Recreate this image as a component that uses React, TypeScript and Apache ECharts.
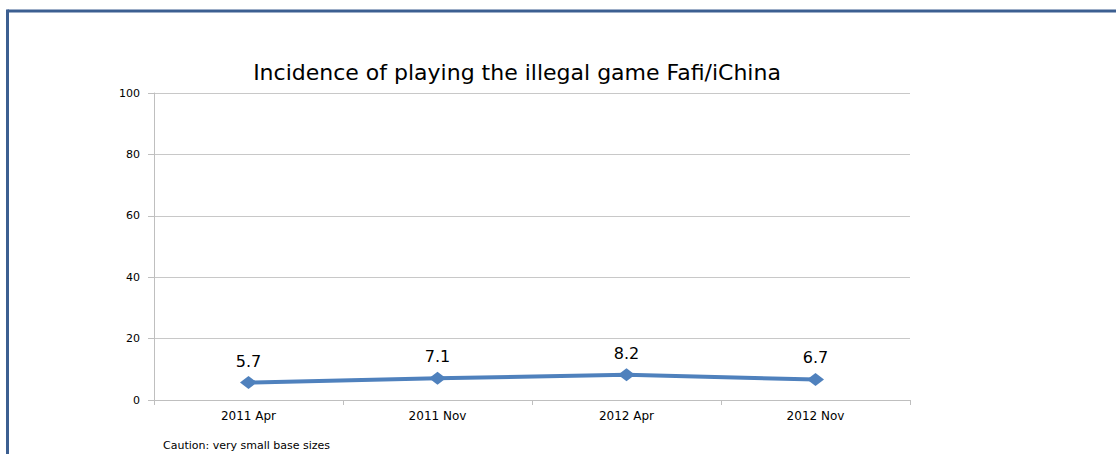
import React, { useEffect, useRef } from "react";
import * as echarts from "echarts";

const categories = ["2011 Apr", "2011 Nov", "2012 Apr", "2012 Nov"];
const values = [5.7, 7.1, 8.2, 6.7];
const titleText = "Incidence of playing the illegal game Fafi/iChina";
const noteText = "Caution: very small base sizes";

export default function App() {
  const ref = useRef<HTMLDivElement>(null);
  useEffect(() => {
    const chart = echarts.init(ref.current!, null, { renderer: "svg" });
    const font = "'DejaVu Sans', 'Open Sans', sans-serif";
    chart.setOption({
      animation: false,
      backgroundColor: "#ffffff",
      title: {
        text: titleText,
        left: 512,
        top: 56,
        textAlign: "center",
        textStyle: { fontFamily: font, fontSize: 22, fontWeight: "normal", color: "#000000" },
      },
      grid: { left: 154, right: 206, top: 93, bottom: 54 },
      xAxis: {
        type: "category",
        data: categories,
        boundaryGap: true,
        axisLine: { lineStyle: { color: "#BFBFBF", width: 1 } },
        axisTick: { show: true, alignWithLabel: false, length: 5, lineStyle: { color: "#BFBFBF" } },
        axisLabel: { fontFamily: font, fontSize: 12, color: "#000000", margin: 10 },
      },
      yAxis: {
        type: "value",
        min: 0,
        max: 100,
        interval: 20,
        axisLine: { show: true, lineStyle: { color: "#BFBFBF", width: 1 } },
        axisTick: { show: true, length: 6, lineStyle: { color: "#BFBFBF" } },
        splitLine: { lineStyle: { color: "#C8C8C8", width: 1 } },
        axisLabel: { fontFamily: font, fontSize: 11, color: "#000000", margin: 14 },
      },
      series: [
        {
          type: "line",
          data: values,
          symbol: "diamond",
          symbolSize: [17, 13],
          lineStyle: { color: "#4F81BD", width: 4 },
          itemStyle: { color: "#4F81BD" },
          label: {
            show: true,
            position: "top",
            distance: 7,
            fontFamily: font,
            fontSize: 16,
            color: "#000000",
          },
        },
      ],
      graphic: [
        {
          type: "line",
          shape: { x1: 7.5, y1: 11, x2: 1116, y2: 11 },
          style: { stroke: "#3C5F91", lineWidth: 3 },
        },
        {
          type: "line",
          shape: { x1: 7.5, y1: 9.5, x2: 7.5, y2: 454 },
          style: { stroke: "#3C5F91", lineWidth: 3 },
        },
        {
          type: "text",
          x: 163,
          y: 440,
          style: { text: noteText, fontFamily: font, fontSize: 11, fill: "#000000" },
        },
      ],
    });
    return () => chart.dispose();
  }, []);
  return (
    <div
      ref={ref}
      style={{ position: "fixed", left: 0, top: 0, width: 1116, height: 454 }}
    />
  );
}
